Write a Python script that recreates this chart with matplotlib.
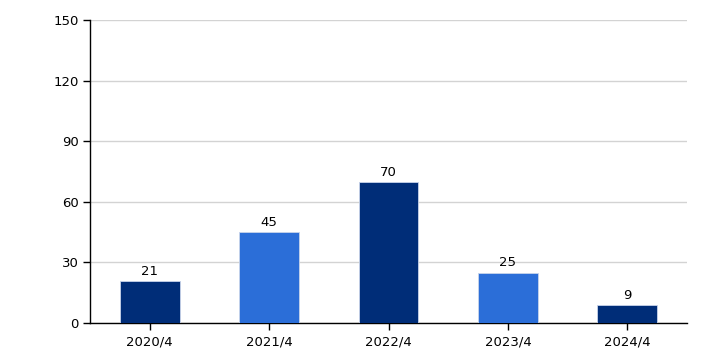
import matplotlib
matplotlib.use("Agg")
import matplotlib.pyplot as plt

categories = ["2020/4", "2021/4", "2022/4", "2023/4", "2024/4"]
values = [21, 45, 70, 25, 9]
colors = ["#002D78", "#2B6ED8", "#002D78", "#2B6ED8", "#002D78"]
yticks = [0, 30, 60, 90, 120, 150]

plt.rcParams['font.family'] = ['DejaVu Sans']

fig = plt.figure(figsize=(7.06, 3.53), dpi=100)
ax = fig.add_axes([90 / 706, 30 / 353, 597 / 706, 303 / 353])

x = range(len(categories))
bars = ax.bar(x, values, width=0.5, color=colors, edgecolor="#C8D4EA", linewidth=0.6, zorder=3)
for xi, v in zip(x, values):
    ax.text(xi, v + 1.5, str(v), ha='center', va='bottom', fontsize=9.5, color='black')

ax.set_xlim(-0.5, len(categories) - 0.5)
ax.set_ylim(0, 150)
ax.set_yticks(yticks)
ax.set_xticks(list(x))
ax.set_xticklabels(categories)
ax.tick_params(axis='both', labelsize=9.5, length=5, width=1, direction='out', colors='black')
ax.tick_params(axis='y', pad=3)
ax.tick_params(axis='x', pad=4)
ax.yaxis.grid(True, color='#D3D3D3', linewidth=1, zorder=0)
ax.set_axisbelow(True)
for side in ['top', 'right']:
    ax.spines[side].set_visible(False)
ax.spines['left'].set_linewidth(1)
ax.spines['bottom'].set_linewidth(1)

fig.savefig("out.png", dpi=100)
